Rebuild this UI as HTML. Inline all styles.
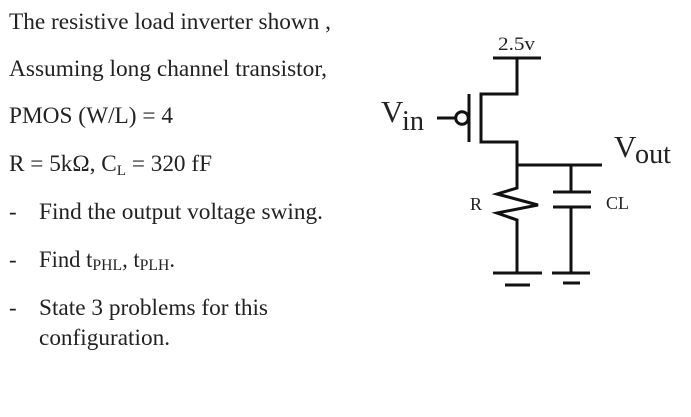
<!DOCTYPE html>
<html>
<head>
<meta charset="utf-8">
<style>
html,body{margin:0;padding:0;background:#fff}
body{width:691px;height:417px;overflow:hidden;position:relative}
svg{position:absolute;left:0;top:0}
text{font-family:"Liberation Serif",serif;fill:#222}
</style>
</head>
<body>
<svg width="691" height="417" viewBox="0 0 691 417" xmlns="http://www.w3.org/2000/svg">
<g font-size="23">
<text x="9" y="29" textLength="322" lengthAdjust="spacingAndGlyphs">The resistive load inverter shown ,</text>
<text x="9" y="76" textLength="318" lengthAdjust="spacingAndGlyphs">Assuming long channel transistor,</text>
<text x="9" y="123" textLength="164" lengthAdjust="spacingAndGlyphs">PMOS (W/L) = 4</text>
<text x="9" y="171" textLength="203" lengthAdjust="spacingAndGlyphs">R = 5kΩ, C<tspan font-size="15" dy="4">L</tspan><tspan dy="-4"> = 320 fF</tspan></text>
<text x="9" y="219">-</text>
<text x="39" y="219" textLength="284" lengthAdjust="spacingAndGlyphs">Find the output voltage swing.</text>
<text x="9" y="267">-</text>
<text x="39" y="267" textLength="136" lengthAdjust="spacingAndGlyphs">Find t<tspan font-size="16" dy="3">PHL</tspan><tspan dy="-3">, t</tspan><tspan font-size="16" dy="3">PLH</tspan><tspan dy="-3">.</tspan></text>
<text x="9" y="315">-</text>
<text x="39" y="315" textLength="229" lengthAdjust="spacingAndGlyphs">State 3 problems for this</text>
<text x="39" y="345" textLength="131" lengthAdjust="spacingAndGlyphs">configuration.</text>
</g>
<text x="498" y="50" font-size="19" textLength="37" lengthAdjust="spacingAndGlyphs">2.5v</text>
<text x="381" y="122" font-size="31">V</text>
<text x="402" y="130" font-size="28" textLength="22" lengthAdjust="spacingAndGlyphs">in</text>
<text x="614" y="157" font-size="31">V</text>
<text x="635" y="163" font-size="28" textLength="36" lengthAdjust="spacingAndGlyphs">out</text>
<text x="470" y="210" font-size="18">R</text>
<text x="606" y="209" font-size="18">CL</text>
<g fill="none" stroke="#111" stroke-width="3">
<path d="M493 58H541M517 58V94H481V142H517V165M517 165H602M469 94V142M437 118H455"/>
<circle cx="462" cy="118" r="6.3"/>
<path d="M517 165V188L497 194L538 205L497 213L517 220V273"/>
<path d="M571 165V192M553 192H591M553 207H591M571 207V273"/>
<path d="M493 273H542M505 285H530M552 273H590M563 283H580"/>
</g>
</svg>
</body>
</html>
